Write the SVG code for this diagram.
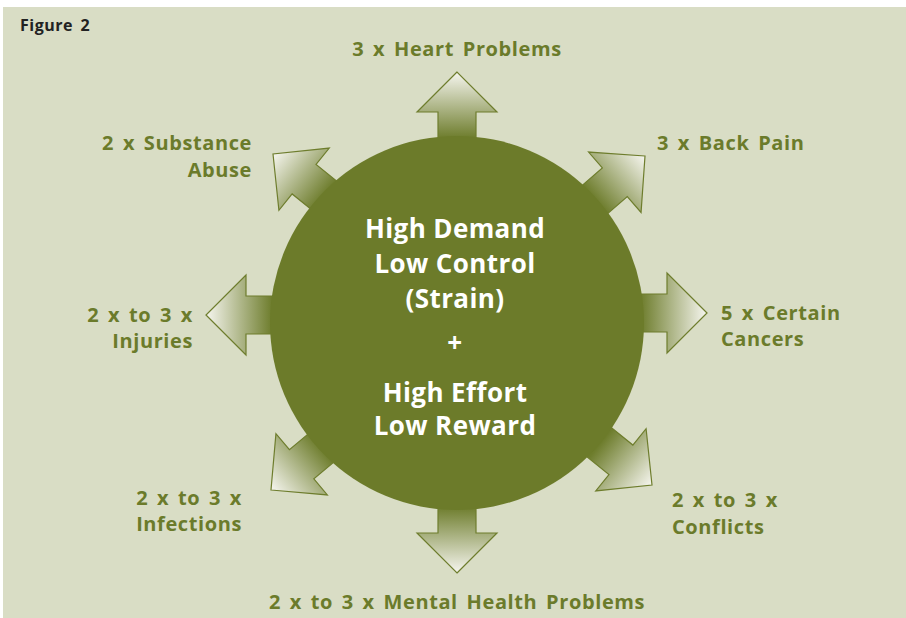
<svg xmlns="http://www.w3.org/2000/svg" width="906" height="618" viewBox="0 0 906 618">
  <defs>
    <linearGradient id="arrowGrad" gradientUnits="userSpaceOnUse" x1="0" y1="0" x2="-66" y2="0">
      <stop offset="0" stop-color="#f6f6ef"/>
      <stop offset="1" stop-color="#6e7d2d"/>
    </linearGradient>
    <path id="arrow" d="M0,0 L-40,-40 L-40,-19 L-110,-19 L-110,19 L-40,19 L-40,40 Z"/>
    <style>
      .arr { fill: url(#arrowGrad); stroke: #6e7d2d; stroke-width: 1.2; stroke-linejoin: miter; }
      .lbl { font-family: "Open Sans", "Liberation Sans", sans-serif; font-weight: bold; font-size: 20px; fill: #6b7b2b; letter-spacing: 0.6px; word-spacing: 3px; }
      .ctr { font-family: "Open Sans", "Liberation Sans", sans-serif; font-weight: bold; font-size: 26px; fill: #ffffff; text-anchor: middle; letter-spacing: 0.4px; }
    </style>
  </defs>
  <rect x="0" y="0" width="906" height="618" fill="#ffffff"/>
  <rect x="3" y="7" width="903" height="611" fill="#d9ddc5"/>
  <text x="20" y="31" font-family="'Open Sans', 'Liberation Sans', sans-serif" font-weight="bold" font-size="16" fill="#222222" letter-spacing="0.5" word-spacing="3">Figure 2</text>

  <g id="connectors">
    <use href="#arrow" class="arr" transform="translate(457,72) rotate(-90)"/>
    <use href="#arrow" class="arr" transform="translate(645,156) rotate(-41)"/>
    <use href="#arrow" class="arr" transform="translate(707,313) rotate(0)"/>
    <use href="#arrow" class="arr" transform="translate(652,485) rotate(39)"/>
    <use href="#arrow" class="arr" transform="translate(457,573) rotate(90)"/>
    <use href="#arrow" class="arr" transform="translate(271,490) rotate(140)"/>
    <use href="#arrow" class="arr" transform="translate(206,315) rotate(180)"/>
    <use href="#arrow" class="arr" transform="translate(273,154) rotate(-141)"/>
  </g>

  <g id="center">
    <circle cx="457" cy="323" r="187" fill="#6c7b2a"/>
    <text class="ctr" x="455" y="238">High Demand</text>
    <text class="ctr" x="455" y="273">Low Control</text>
    <text class="ctr" x="455" y="308">(Strain)</text>
    <text class="ctr" x="455" y="352">+</text>
    <text class="ctr" x="455" y="402">High Effort</text>
    <text class="ctr" x="455" y="435">Low Reward</text>
  </g>

  <g id="heart">
    <text class="lbl" x="457" y="56" text-anchor="middle">3 x Heart Problems</text>
  </g>
  <g id="back">
    <text class="lbl" x="657" y="150">3 x Back Pain</text>
  </g>
  <g id="cancers">
    <text class="lbl" x="721" y="320">5 x Certain</text>
    <text class="lbl" x="721" y="346">Cancers</text>
  </g>
  <g id="conflicts">
    <text class="lbl" x="672" y="507">2 x to 3 x</text>
    <text class="lbl" x="672" y="534">Conflicts</text>
  </g>
  <g id="mental">
    <text class="lbl" x="457" y="609" text-anchor="middle">2 x to 3 x Mental Health Problems</text>
  </g>
  <g id="infections">
    <text class="lbl" x="242" y="505" text-anchor="end">2 x to 3 x</text>
    <text class="lbl" x="242" y="531" text-anchor="end">Infections</text>
  </g>
  <g id="injuries">
    <text class="lbl" x="193" y="322" text-anchor="end">2 x to 3 x</text>
    <text class="lbl" x="193" y="348" text-anchor="end">Injuries</text>
  </g>
  <g id="substance">
    <text class="lbl" x="252" y="150" text-anchor="end">2 x Substance</text>
    <text class="lbl" x="252" y="177" text-anchor="end">Abuse</text>
  </g>
</svg>
